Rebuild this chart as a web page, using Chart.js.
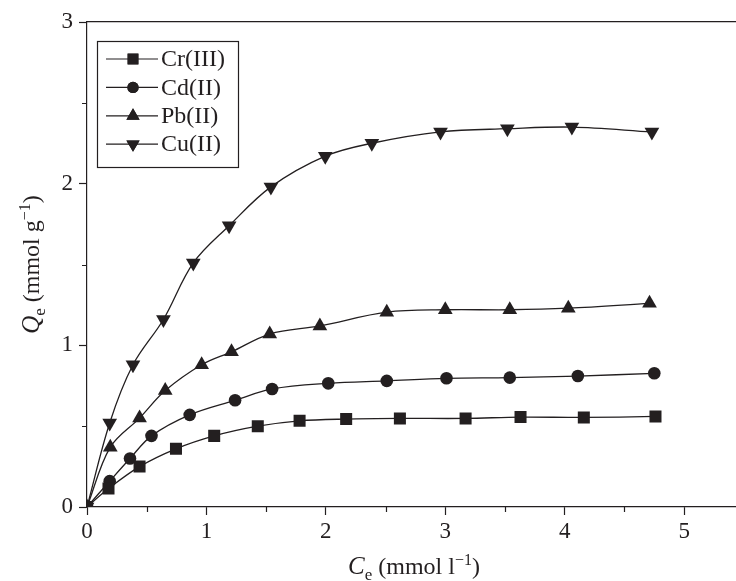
<!DOCTYPE html>
<html>
<head>
<meta charset="utf-8">
<script src="https://cdn.jsdelivr.net/npm/chart.js@4.4.1/dist/chart.umd.min.js"></script>
<style>
html, body { margin: 0; padding: 0; background: #fff; overflow: hidden; }
#wrap { width: 744px; height: 581px; position: relative; }
</style>
</head>
<body>
<div id="wrap"><canvas id="chart"></canvas></div>
<script>
var seriesNames = ['Cr(III)', 'Cd(II)', 'Pb(II)', 'Cu(II)'];

var crX = [0, 0.18, 0.44, 0.745, 1.065, 1.43, 1.78, 2.17, 2.62, 3.17, 3.63, 4.16, 4.76];
var crY = [0, 0.114, 0.25, 0.36, 0.44, 0.50, 0.533, 0.544, 0.548, 0.548, 0.556, 0.554, 0.56];

var cdX = [0, 0.19, 0.36, 0.54, 0.86, 1.24, 1.55, 2.02, 2.51, 3.01, 3.54, 4.11, 4.75];
var cdY = [0, 0.16, 0.30, 0.44, 0.57, 0.66, 0.73, 0.765, 0.78, 0.796, 0.80, 0.81, 0.827];

var pbX = [0, 0.195, 0.44, 0.655, 0.96, 1.21, 1.53, 1.95, 2.51, 3.0, 3.54, 4.03, 4.71];
var pbY = [0, 0.37, 0.55, 0.72, 0.88, 0.96, 1.07, 1.12, 1.205, 1.22, 1.22, 1.23, 1.26];

var cuX = [0, 0.19, 0.385, 0.64, 0.89, 1.19, 1.54, 1.995, 2.385, 2.96, 3.52, 4.06, 4.73];
var cuY = [0, 0.52, 0.88, 1.16, 1.51, 1.74, 1.98, 2.17, 2.25, 2.32, 2.34, 2.35, 2.32];

var xTicks = [0, 1, 2, 3, 4, 5];
var yTicks = [0, 1, 2, 3];

var ink = '#231f20';
var serif = '"Liberation Serif", "DejaVu Serif", serif';

function pts(xs, ys) {
    return xs.map(function (x, i) { return { x: x, y: ys[i] }; });
}

function makeSet(name, xs, ys, style, radius, rot) {
    return {
        label: name,
        data: pts(xs, ys),
        borderColor: ink,
        backgroundColor: ink,
        borderWidth: 1.3,
        pointStyle: style,
        pointRadius: radius,
        pointRotation: rot,
        pointBorderWidth: 0,
        pointBackgroundColor: ink,
        tension: 0.35,
        clip: 0
    };
}

// axis titles with italic letter, subscript and superscript
function drawRich(ctx, parts, x, y) {
    var total = 0;
    parts.forEach(function (p) {
        ctx.font = p.font;
        p.w = ctx.measureText(p.t).width;
        total += p.w;
    });
    var cx = x - total / 2;
    parts.forEach(function (p) {
        ctx.font = p.font;
        ctx.fillText(p.t, cx, y + (p.dy || 0));
        cx += p.w;
    });
}

function titleParts(letter, unit) {
    return [
        { t: letter, font: 'italic 25px ' + serif },
        { t: 'e', font: '17px ' + serif, dy: 6 },
        { t: ' (mmol ' + unit, font: '24px ' + serif },
        { t: '\u22121', font: '16px ' + serif, dy: -9 },
        { t: ')', font: '24px ' + serif }
    ];
}

var extras = {
    id: 'extras',
    afterDraw: function (chart) {
        var ctx = chart.ctx;
        var xs = chart.scales.x, ys = chart.scales.y;
        var a = chart.chartArea;
        ctx.save();
        ctx.strokeStyle = ink;
        ctx.lineWidth = 1.2;
        // minor ticks
        ctx.beginPath();
        for (var v = 0.5; v < xs.max; v += 1) {
            var px = Math.round(xs.getPixelForValue(v)) + 0.5;
            ctx.moveTo(px, a.bottom);
            ctx.lineTo(px, a.bottom + 5);
        }
        for (var w = 0.5; w < ys.max; w += 1) {
            var py = Math.round(ys.getPixelForValue(w)) + 0.5;
            ctx.moveTo(a.left - 5, py);
            ctx.lineTo(a.left, py);
        }
        ctx.stroke();

        // legend
        var bx = 97, by = 41, bw = 141, bh = 126;
        ctx.lineWidth = 1.2;
        ctx.strokeRect(bx + 0.5, by + 0.5, bw, bh);
        var sets = chart.data.datasets;
        ctx.fillStyle = ink;
        ctx.textBaseline = 'middle';
        ctx.textAlign = 'left';
        ctx.font = '24px ' + serif;
        for (var i = 0; i < sets.length; i++) {
            var ry = 59 + i * 28.4;
            ctx.beginPath();
            ctx.moveTo(106, ry);
            ctx.lineTo(158, ry);
            ctx.stroke();
            Chart.helpers.drawPoint(ctx, {
                pointStyle: sets[i].pointStyle,
                radius: sets[i].pointRadius * 0.9,
                rotation: sets[i].pointRotation,
                borderWidth: 0
            }, 133, ry);
            ctx.fill();
            ctx.fillText(sets[i].label, 161, ry + 1);
        }

        // axis titles
        ctx.textBaseline = 'alphabetic';
        ctx.textAlign = 'left';
        drawRich(ctx, titleParts('C', 'l'), 414, 574);
        ctx.translate(39, (a.top + a.bottom) / 2);
        ctx.rotate(-Math.PI / 2);
        drawRich(ctx, titleParts('Q', 'g'), 0, 0);
        ctx.restore();
    }
};

function noSidePad(scale) {
    scale.paddingLeft = 0;
    scale.paddingRight = 0;
}

var ctx = document.getElementById('chart').getContext('2d');
var myChart = new Chart(ctx, {
    type: 'line',
    data: {
        datasets: [
            makeSet(seriesNames[0], crX, crY, 'rect', 8.5, 0),
            makeSet(seriesNames[1], cdX, cdY, 'circle', 6.3, 0),
            makeSet(seriesNames[2], pbX, pbY, 'triangle', 8.5, 0),
            makeSet(seriesNames[3], cuX, cuY, 'triangle', 8.5, 180)
        ]
    },
    options: {
        responsive: true,
        maintainAspectRatio: false,
        animation: false,
        layout: { padding: { top: 22, right: 0, left: 0, bottom: 0 } },
        plugins: {
            legend: { display: false },
            tooltip: { enabled: false }
        },
        scales: {
            x: {
                type: 'linear',
                position: 'bottom',
                min: 0,
                max: 5.43,
                afterBuildTicks: function (scale) {
                    scale.ticks = xTicks.map(function (v) { return { value: v }; });
                },
                afterFit: function (scale) { scale.height = 74; noSidePad(scale); },
                grid: { drawOnChartArea: false, tickLength: 8, tickColor: ink, tickWidth: 1.2 },
                border: { color: ink, width: 1.2 },
                ticks: { color: ink, font: { family: serif, size: 23 }, padding: 3, maxRotation: 0 }
            },
            x2: {
                type: 'linear',
                position: 'top',
                min: 0,
                max: 5.43,
                afterFit: function (scale) { scale.height = 0; noSidePad(scale); },
                grid: { display: false },
                border: { color: ink, width: 1.2 },
                ticks: { display: false }
            },
            y: {
                min: 0,
                max: 3,
                afterBuildTicks: function (scale) {
                    scale.ticks = yTicks.map(function (v) { return { value: v }; });
                },
                afterFit: function (scale) { scale.width = 87; },
                grid: { drawOnChartArea: false, tickLength: 8, tickColor: ink, tickWidth: 1.2 },
                border: { color: ink, width: 1.2 },
                ticks: { color: ink, font: { family: serif, size: 23 }, padding: 6 }
            }
        }
    },
    plugins: [extras]
});
</script>
</body>
</html>
